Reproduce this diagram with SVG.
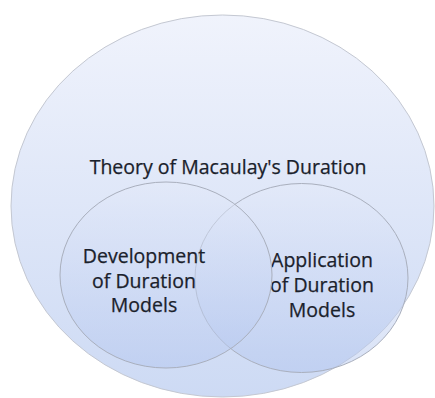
<svg xmlns="http://www.w3.org/2000/svg" width="435" height="398" viewBox="0 0 435 398">
  <defs>
    <linearGradient id="gOuter" x1="0" y1="0" x2="0" y2="1">
      <stop offset="0" stop-color="#f0f3fc"/>
      <stop offset="1" stop-color="#cddaf4"/>
    </linearGradient>
    <linearGradient id="gInner" x1="0" y1="0" x2="0" y2="1">
      <stop offset="0" stop-color="#e4eaf9" stop-opacity="0.5"/>
      <stop offset="1" stop-color="#b2c5ee" stop-opacity="0.5"/>
    </linearGradient>
  </defs>
  <style>
    .outer { fill: url(#gOuter); stroke: #c4c8d2; stroke-width: 1; }
    .inner { fill: url(#gInner); stroke: #a9afbd; stroke-width: 1; }
    .lbl { font-family: "Open Sans", "Noto Sans", "Liberation Sans", sans-serif; font-size: 19.5px; fill: #1a212b; stroke: #1a212b; stroke-width: 0.25; text-anchor: middle; }
  </style>
  <rect width="435" height="398" fill="#ffffff"/>
  <g id="theory">
    <ellipse class="outer" cx="222.5" cy="206" rx="211.5" ry="191"/>
    <text class="lbl" x="228" y="174">Theory of Macaulay's Duration</text>
  </g>
  <g id="application">
    <ellipse class="inner" cx="301.5" cy="278" rx="106.5" ry="94.5"/>
    <text class="lbl" x="322" y="267">Application</text>
    <text class="lbl" x="322" y="292">of Duration</text>
    <text class="lbl" x="322" y="317">Models</text>
  </g>
  <g id="development">
    <ellipse class="inner" cx="166" cy="275" rx="106" ry="93"/>
    <text class="lbl" x="144" y="263">Development</text>
    <text class="lbl" x="144" y="287.5">of Duration</text>
    <text class="lbl" x="144" y="312">Models</text>
  </g>
  <g id="connectors"/>
</svg>
